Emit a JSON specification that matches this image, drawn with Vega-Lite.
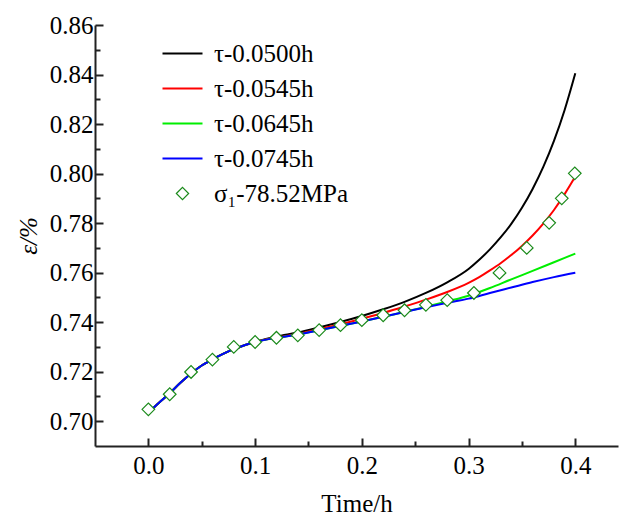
{
"$schema":"https://vega.github.io/schema/vega-lite/v6.json",
"width":523,"height":421,
"autosize":{"type":"none"},
"padding":{"left":95,"top":25,"right":4,"bottom":74},
"background":"white",
"config":{"view":{"stroke":null},"font":"Liberation Serif"},
"datasets":{
"curves":[
{"series":"τ-0.0500h","t":0.00,"e":0.7035},{"series":"τ-0.0500h","t":0.01,"e":0.7075},{"series":"τ-0.0500h","t":0.02,"e":0.7113},{"series":"τ-0.0500h","t":0.03,"e":0.7155},{"series":"τ-0.0500h","t":0.04,"e":0.7193},{"series":"τ-0.0500h","t":0.05,"e":0.7225},{"series":"τ-0.0500h","t":0.06,"e":0.7250},{"series":"τ-0.0500h","t":0.07,"e":0.7272},{"series":"τ-0.0500h","t":0.08,"e":0.7291},{"series":"τ-0.0500h","t":0.09,"e":0.7307},{"series":"τ-0.0500h","t":0.10,"e":0.7320},{"series":"τ-0.0500h","t":0.12,"e":0.7342},{"series":"τ-0.0500h","t":0.14,"e":0.7358},{"series":"τ-0.0500h","t":0.16,"e":0.7379},{"series":"τ-0.0500h","t":0.18,"e":0.7401},{"series":"τ-0.0500h","t":0.20,"e":0.7425},{"series":"τ-0.0500h","t":0.22,"e":0.7452},{"series":"τ-0.0500h","t":0.24,"e":0.7482},{"series":"τ-0.0500h","t":0.26,"e":0.7518},{"series":"τ-0.0500h","t":0.28,"e":0.7561},{"series":"τ-0.0500h","t":0.30,"e":0.7615},{"series":"τ-0.0500h","t":0.31,"e":0.7652},{"series":"τ-0.0500h","t":0.32,"e":0.7694},{"series":"τ-0.0500h","t":0.33,"e":0.7742},{"series":"τ-0.0500h","t":0.34,"e":0.7797},{"series":"τ-0.0500h","t":0.35,"e":0.7862},{"series":"τ-0.0500h","t":0.36,"e":0.7938},{"series":"τ-0.0500h","t":0.37,"e":0.8027},{"series":"τ-0.0500h","t":0.38,"e":0.8132},{"series":"τ-0.0500h","t":0.39,"e":0.8257},{"series":"τ-0.0500h","t":0.40,"e":0.8405},
{"series":"τ-0.0545h","t":0.00,"e":0.7035},{"series":"τ-0.0545h","t":0.01,"e":0.7075},{"series":"τ-0.0545h","t":0.02,"e":0.7113},{"series":"τ-0.0545h","t":0.03,"e":0.7155},{"series":"τ-0.0545h","t":0.04,"e":0.7193},{"series":"τ-0.0545h","t":0.05,"e":0.7225},{"series":"τ-0.0545h","t":0.06,"e":0.7250},{"series":"τ-0.0545h","t":0.07,"e":0.7272},{"series":"τ-0.0545h","t":0.08,"e":0.7291},{"series":"τ-0.0545h","t":0.09,"e":0.7307},{"series":"τ-0.0545h","t":0.10,"e":0.7320},{"series":"τ-0.0545h","t":0.12,"e":0.7338},{"series":"τ-0.0545h","t":0.14,"e":0.7352},{"series":"τ-0.0545h","t":0.16,"e":0.7372},{"series":"τ-0.0545h","t":0.18,"e":0.7392},{"series":"τ-0.0545h","t":0.20,"e":0.7414},{"series":"τ-0.0545h","t":0.22,"e":0.7437},{"series":"τ-0.0545h","t":0.24,"e":0.7463},{"series":"τ-0.0545h","t":0.26,"e":0.7491},{"series":"τ-0.0545h","t":0.28,"e":0.7522},{"series":"τ-0.0545h","t":0.30,"e":0.7559},{"series":"τ-0.0545h","t":0.31,"e":0.7582},{"series":"τ-0.0545h","t":0.32,"e":0.7609},{"series":"τ-0.0545h","t":0.33,"e":0.7638},{"series":"τ-0.0545h","t":0.34,"e":0.7671},{"series":"τ-0.0545h","t":0.35,"e":0.7708},{"series":"τ-0.0545h","t":0.36,"e":0.7750},{"series":"τ-0.0545h","t":0.37,"e":0.7798},{"series":"τ-0.0545h","t":0.38,"e":0.7853},{"series":"τ-0.0545h","t":0.39,"e":0.7917},{"series":"τ-0.0545h","t":0.40,"e":0.7988},
{"series":"τ-0.0645h","t":0.00,"e":0.7035},{"series":"τ-0.0645h","t":0.01,"e":0.7075},{"series":"τ-0.0645h","t":0.02,"e":0.7113},{"series":"τ-0.0645h","t":0.03,"e":0.7155},{"series":"τ-0.0645h","t":0.04,"e":0.7193},{"series":"τ-0.0645h","t":0.05,"e":0.7225},{"series":"τ-0.0645h","t":0.06,"e":0.7250},{"series":"τ-0.0645h","t":0.07,"e":0.7272},{"series":"τ-0.0645h","t":0.08,"e":0.7291},{"series":"τ-0.0645h","t":0.09,"e":0.7307},{"series":"τ-0.0645h","t":0.10,"e":0.7320},{"series":"τ-0.0645h","t":0.12,"e":0.7337},{"series":"τ-0.0645h","t":0.14,"e":0.7350},{"series":"τ-0.0645h","t":0.16,"e":0.7367},{"series":"τ-0.0645h","t":0.18,"e":0.7385},{"series":"τ-0.0645h","t":0.20,"e":0.7403},{"series":"τ-0.0645h","t":0.22,"e":0.7422},{"series":"τ-0.0645h","t":0.24,"e":0.7441},{"series":"τ-0.0645h","t":0.26,"e":0.7462},{"series":"τ-0.0645h","t":0.28,"e":0.7484},{"series":"τ-0.0645h","t":0.30,"e":0.7507},{"series":"τ-0.0645h","t":0.31,"e":0.7522},{"series":"τ-0.0645h","t":0.32,"e":0.7538},{"series":"τ-0.0645h","t":0.34,"e":0.7573},{"series":"τ-0.0645h","t":0.36,"e":0.7607},{"series":"τ-0.0645h","t":0.38,"e":0.7642},{"series":"τ-0.0645h","t":0.40,"e":0.7677},
{"series":"τ-0.0745h","t":0.00,"e":0.7035},{"series":"τ-0.0745h","t":0.01,"e":0.7075},{"series":"τ-0.0745h","t":0.02,"e":0.7113},{"series":"τ-0.0745h","t":0.03,"e":0.7155},{"series":"τ-0.0745h","t":0.04,"e":0.7193},{"series":"τ-0.0745h","t":0.05,"e":0.7225},{"series":"τ-0.0745h","t":0.06,"e":0.7250},{"series":"τ-0.0745h","t":0.07,"e":0.7272},{"series":"τ-0.0745h","t":0.08,"e":0.7291},{"series":"τ-0.0745h","t":0.09,"e":0.7307},{"series":"τ-0.0745h","t":0.10,"e":0.7320},{"series":"τ-0.0745h","t":0.12,"e":0.7337},{"series":"τ-0.0745h","t":0.14,"e":0.7350},{"series":"τ-0.0745h","t":0.16,"e":0.7367},{"series":"τ-0.0745h","t":0.18,"e":0.7385},{"series":"τ-0.0745h","t":0.20,"e":0.7403},{"series":"τ-0.0745h","t":0.22,"e":0.7422},{"series":"τ-0.0745h","t":0.24,"e":0.7441},{"series":"τ-0.0745h","t":0.26,"e":0.7460},{"series":"τ-0.0745h","t":0.28,"e":0.7478},{"series":"τ-0.0745h","t":0.30,"e":0.7495},{"series":"τ-0.0745h","t":0.32,"e":0.7518},{"series":"τ-0.0745h","t":0.34,"e":0.7540},{"series":"τ-0.0745h","t":0.36,"e":0.7562},{"series":"τ-0.0745h","t":0.38,"e":0.7582},{"series":"τ-0.0745h","t":0.40,"e":0.7600}
],
"points":[
{"t":0.0,"e":0.7048},{"t":0.02,"e":0.7109},{"t":0.04,"e":0.7199},{"t":0.06,"e":0.7249},{"t":0.08,"e":0.7300},{"t":0.10,"e":0.7320},{"t":0.12,"e":0.7337},{"t":0.14,"e":0.7347},{"t":0.16,"e":0.7368},{"t":0.18,"e":0.7388},{"t":0.20,"e":0.7408},{"t":0.22,"e":0.7428},{"t":0.24,"e":0.7448},{"t":0.26,"e":0.7470},{"t":0.28,"e":0.7489},{"t":0.305,"e":0.7518},{"t":0.329,"e":0.7599},{"t":0.3545,"e":0.7700},{"t":0.3755,"e":0.7801},{"t":0.3873,"e":0.7900},{"t":0.3995,"e":0.8001}
]
},
"resolve":{"axis":{"x":"independent","y":"independent"}},
"layer":[
{"data":{"name":"curves"},
 "mark":{"type":"line","strokeWidth":2,"interpolate":"monotone","clip":true},
 "encoding":{
  "x":{"field":"t","type":"quantitative","scale":{"domain":[-0.05,0.44],"nice":false,"zero":false},
   "axis":{"orient":"bottom","values":[0,0.1,0.2,0.3,0.4],"format":".1f","title":"Time/h","titleFont":"Liberation Serif","titleFontSize":25,"titleFontWeight":"normal","titleColor":"black","titlePadding":13,"labelFont":"Liberation Serif","labelFontSize":25,"labelColor":"black","labelPadding":15,"labelFlush":false,"domainColor":"#222","domainWidth":2,"tickColor":"#222","tickWidth":2,"tickSize":-8,"grid":false}},
  "y":{"field":"e","type":"quantitative","scale":{"domain":[0.69,0.86],"nice":false,"zero":false},
   "axis":{"orient":"left","values":[0.70,0.72,0.74,0.76,0.78,0.80,0.82,0.84,0.86],"format":".2f","title":"ε/%","titleFont":"Liberation Serif","titleFontStyle":"italic","titleFontSize":25,"titleFontWeight":"normal","titleColor":"black","titlePadding":8,"labelFont":"Liberation Serif","labelFontSize":25,"labelColor":"black","labelPadding":10,"labelFlush":false,"domainColor":"#222","domainWidth":2,"tickColor":"#222","tickWidth":2,"tickSize":-8,"grid":false}},
  "color":{"field":"series","type":"nominal",
   "scale":{"domain":["τ-0.0500h","τ-0.0545h","τ-0.0645h","τ-0.0745h","σ₁-78.52MPa"],"range":["#000000","#ff0000","#00ee00","#0000ff","#1a8a1a"]},
   "legend":{"orient":"none","legendX":75,"legendY":16,"title":null,"labelFont":"Liberation Serif","labelFontSize":25,"labelColor":"black","labelLimit":400,"symbolType":"stroke","symbolStrokeWidth":2,"symbolSize":1600,"rowPadding":9,"labelOffset":19,
    "encode":{"symbols":{"update":{"shape":{"signal":"datum.index===4?'diamond':'stroke'"},"size":{"signal":"datum.index===4?150:1600"},"fill":{"value":"white"},"strokeWidth":{"signal":"datum.index===4?1.2:2"}}}}}
  }
 }
},
{"data":{"name":"points"},
 "mark":{"type":"point","shape":"diamond","filled":false,"fill":"white","size":160,"strokeWidth":1.2,"opacity":1},
 "encoding":{
  "x":{"field":"t","type":"quantitative",
   "axis":{"orient":"bottom","values":[0.05,0.15,0.25,0.35],"labels":false,"domain":false,"title":null,"tickColor":"#222","tickWidth":2,"tickSize":-5,"grid":false}},
  "y":{"field":"e","type":"quantitative",
   "axis":{"orient":"left","values":[0.71,0.73,0.75,0.77,0.79,0.81,0.83,0.85],"labels":false,"domain":false,"title":null,"tickColor":"#222","tickWidth":2,"tickSize":-5,"grid":false}},
  "color":{"datum":"σ₁-78.52MPa"}
 }
}
]
}
